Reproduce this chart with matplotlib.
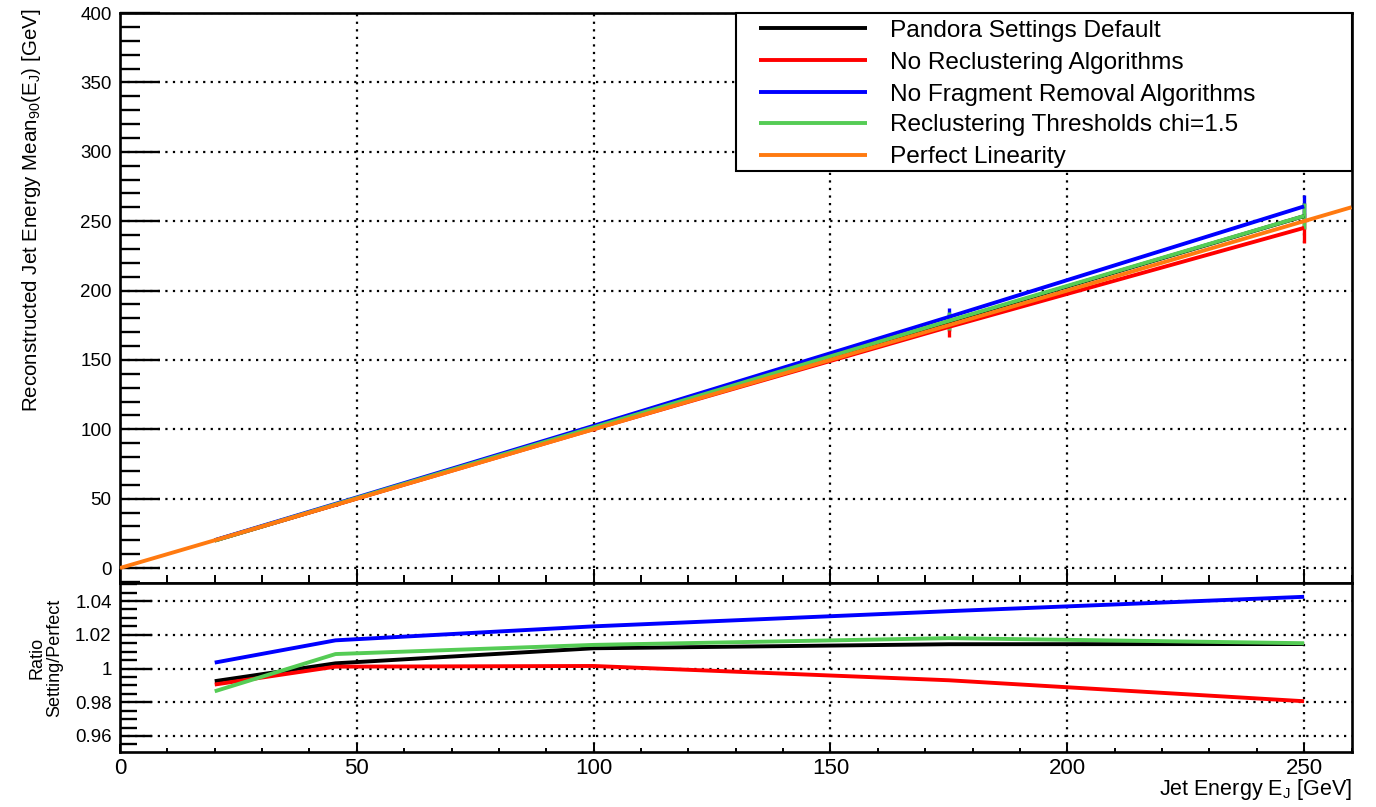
import matplotlib
matplotlib.use("Agg")
import matplotlib.pyplot as plt
import numpy as np
from matplotlib.ticker import MultipleLocator, FixedLocator, FuncFormatter
from matplotlib.lines import Line2D
from matplotlib.patches import Rectangle

plt.rcParams['font.family'] = ['Liberation Sans', 'DejaVu Sans']
plt.rcParams['mathtext.fontset'] = 'custom'
plt.rcParams['mathtext.rm'] = 'Liberation Sans'
plt.rcParams['mathtext.it'] = 'Liberation Sans'

# True jet energies (GeV)
jet_energy = [20.0, 45.5, 100.0, 175.0, 250.0]

# Reconstructed jet energy Mean90 (GeV) per Pandora configuration
mean_default = [19.85, 45.64, 101.20, 177.52, 253.63]
mean_no_recluster = [19.81, 45.55, 100.15, 173.78, 245.15]
mean_no_fragment = [20.07, 46.26, 102.50, 180.95, 260.63]
mean_chi15 = [19.73, 45.89, 101.40, 178.15, 253.75]

# Uncertainties on Mean90 (GeV)
err_default = [0.5, 0.8, 1.2, 6.5, 9.5]
err_no_recluster = [0.5, 0.8, 1.2, 7.0, 11.0]
err_no_fragment = [0.5, 0.8, 1.2, 6.5, 8.5]
err_chi15 = [0.5, 0.8, 1.2, 6.5, 9.5]

# Perfect linearity reference line
perfect_x = [0.0, 260.0]
perfect_y = [0.0, 260.0]

labels = ["Pandora Settings Default",
          "No Reclustering Algorithms",
          "No Fragment Removal Algorithms",
          "Reclustering Thresholds chi=1.5",
          "Perfect Linearity"]
colors = ["#000000", "#ff0000", "#0000ff", "#55cc55", "#ff7a10"]

W, H = 1376, 807
fig = plt.figure(figsize=(W / 100, H / 100), dpi=100)


def fx(px):
    return px / W


def fy(py):
    return 1 - py / H


left = 120 / W
width = (1351.5 - 120) / W
ax1 = fig.add_axes([left, fy(583), width, (583 - 13) / H])
ax2 = fig.add_axes([left, fy(752), width, (752 - 583) / H])

lw = 2.8
grid_kw = dict(color='black', linestyle=(0, (1, 2.4)), linewidth=1.6)

series = [
    (mean_default, err_default),
    (mean_no_recluster, err_no_recluster),
    (mean_no_fragment, err_no_fragment),
    (mean_chi15, err_chi15),
]

E = np.array(jet_energy)
for i, (m, e) in enumerate(series):
    m = np.array(m)
    ax1.vlines(E, m - np.array(e), m + np.array(e), color=colors[i],
               linewidth=2.4, zorder=2)
for i, (m, e) in enumerate(series):
    ax1.plot(E, m, color=colors[i], linewidth=lw, zorder=3 + i,
             solid_capstyle='butt')
ax1.plot(perfect_x, perfect_y, color=colors[4], linewidth=lw, zorder=8,
         solid_capstyle='butt')

for i, (m, e) in enumerate(series):
    ax2.plot(E, np.array(m) / E, color=colors[i], linewidth=lw, zorder=3 + i,
             solid_capstyle='butt')

# Axis ranges
ax1.set_xlim(0, 260)
ax1.set_ylim(-10.8, 400)
ax2.set_xlim(0, 260)
ax2.set_ylim(0.9505, 1.0507)

for ax in (ax1, ax2):
    for sp in ax.spines.values():
        sp.set_linewidth(1.9)
    ax.xaxis.set_major_locator(MultipleLocator(50))
    ax.xaxis.set_minor_locator(MultipleLocator(10))
    ax.set_axisbelow(True)
    ax.grid(True, which='major', **grid_kw)

ax1.yaxis.set_major_locator(FixedLocator([0, 50, 100, 150, 200, 250, 300, 350, 400]))
ax1.yaxis.set_minor_locator(MultipleLocator(10))
ax2.yaxis.set_major_locator(FixedLocator([0.96, 0.98, 1.00, 1.02, 1.04]))
ax2.yaxis.set_minor_locator(MultipleLocator(0.005))

ax1.tick_params(axis='y', which='major', direction='in', length=29, width=1.7,
                labelsize=13.5, pad=6)
ax1.tick_params(axis='y', which='minor', direction='in', length=14.5, width=1.7)
ax1.tick_params(axis='x', which='major', direction='in', length=10, width=1.4,
                labelbottom=False)
ax1.tick_params(axis='x', which='minor', direction='in', length=5.5, width=1.4)

ax2.tick_params(axis='y', which='major', direction='in', length=23, width=1.7,
                labelsize=13.5, pad=6)
ax2.tick_params(axis='y', which='minor', direction='in', length=12, width=1.7)
ax2.tick_params(axis='x', which='major', direction='in', length=6, width=1.4,
                labelsize=16, pad=4)
ax2.tick_params(axis='x', which='minor', direction='in', length=3, width=1.4)

ax2.yaxis.set_major_formatter(
    FuncFormatter(lambda v, p: '1' if abs(v - 1) < 1e-9 else f'{v:.2f}'))

# Axis titles
fig.text(fx(32), fy(9),
         r'Reconstructed Jet Energy Mean$_{90}$(E$_{J}$) [GeV]',
         rotation=90, ha='center', va='top', fontsize=14.8)
fig.text(fx(46), fy(658), 'Ratio\nSetting/Perfect', rotation=90,
         ha='center', va='center', fontsize=13, linespacing=1.0,
         multialignment='center')
fig.text(fx(1352), fy(790), r'Jet Energy E$_{J}$ [GeV]',
         ha='right', va='center', fontsize=15.5)

# Legend box
leg_left, leg_top, leg_right, leg_bottom = 736, 13, 1351.5, 171
fig.patches.append(Rectangle((fx(leg_left), fy(leg_bottom)),
                             fx(leg_right) - fx(leg_left),
                             fy(leg_top) - fy(leg_bottom),
                             transform=fig.transFigure, facecolor='white',
                             edgecolor='black', linewidth=1.5, zorder=20))
row_y = [28, 60, 92, 123, 155]
for lab, col, ry in zip(labels, colors, row_y):
    fig.lines.append(Line2D([fx(759), fx(867)], [fy(ry), fy(ry)],
                            transform=fig.transFigure, color=col,
                            linewidth=lw, solid_capstyle='butt', zorder=21))
    fig.text(fx(890), fy(ry), lab, ha='left', va='center_baseline',
             fontsize=17.6, zorder=22)

fig.savefig('out.png', dpi=100)
